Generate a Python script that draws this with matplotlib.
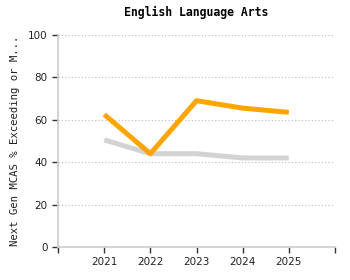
import matplotlib
matplotlib.use("Agg")
import matplotlib.pyplot as plt

# data
years = [2021, 2022, 2023, 2024, 2025]
school = [62.5, 44, 69, 65.5, 63.5]
state = [50.5, 44, 44, 42, 42]
yticks = [0, 20, 40, 60, 80, 100]

fig = plt.figure(figsize=(3.5, 2.8), dpi=100)
ax = fig.add_axes([0.166, 0.118, 0.791, 0.757])

ax.plot(years, state, color="#d3d3d3", linewidth=3.6, solid_capstyle="butt")
ax.plot(years, school, color="#ffa500", linewidth=3.6, solid_capstyle="butt")

ax.set_xlim(2020, 2026)
ax.set_ylim(0, 100)
ax.set_xticks([2020] + years + [2026])
ax.set_xticklabels([""] + [str(y) for y in years] + [""])
ax.set_yticks(yticks)
ax.set_yticklabels([str(v) for v in yticks])

ax.grid(axis="y", linestyle=(0, (1, 2)), color="#bbbbbb", linewidth=0.8)
ax.set_axisbelow(True)
for s in ["top", "right"]:
    ax.spines[s].set_visible(False)
for s in ["left", "bottom"]:
    ax.spines[s].set_color("#cccccc")
    ax.spines[s].set_linewidth(1.2)
ax.tick_params(axis="both", length=4, width=1, color="#333333", labelsize=7.5, labelcolor="#222222")

ax.set_title("English Language Arts", fontsize=8.3, fontweight="bold",
             family="DejaVu Sans Mono", pad=14)
ax.set_ylabel("Next Gen MCAS % Exceeding or M...", fontsize=7.7, color="#222222",
              family="DejaVu Sans Mono", labelpad=6)

fig.savefig("out.png", dpi=100)
